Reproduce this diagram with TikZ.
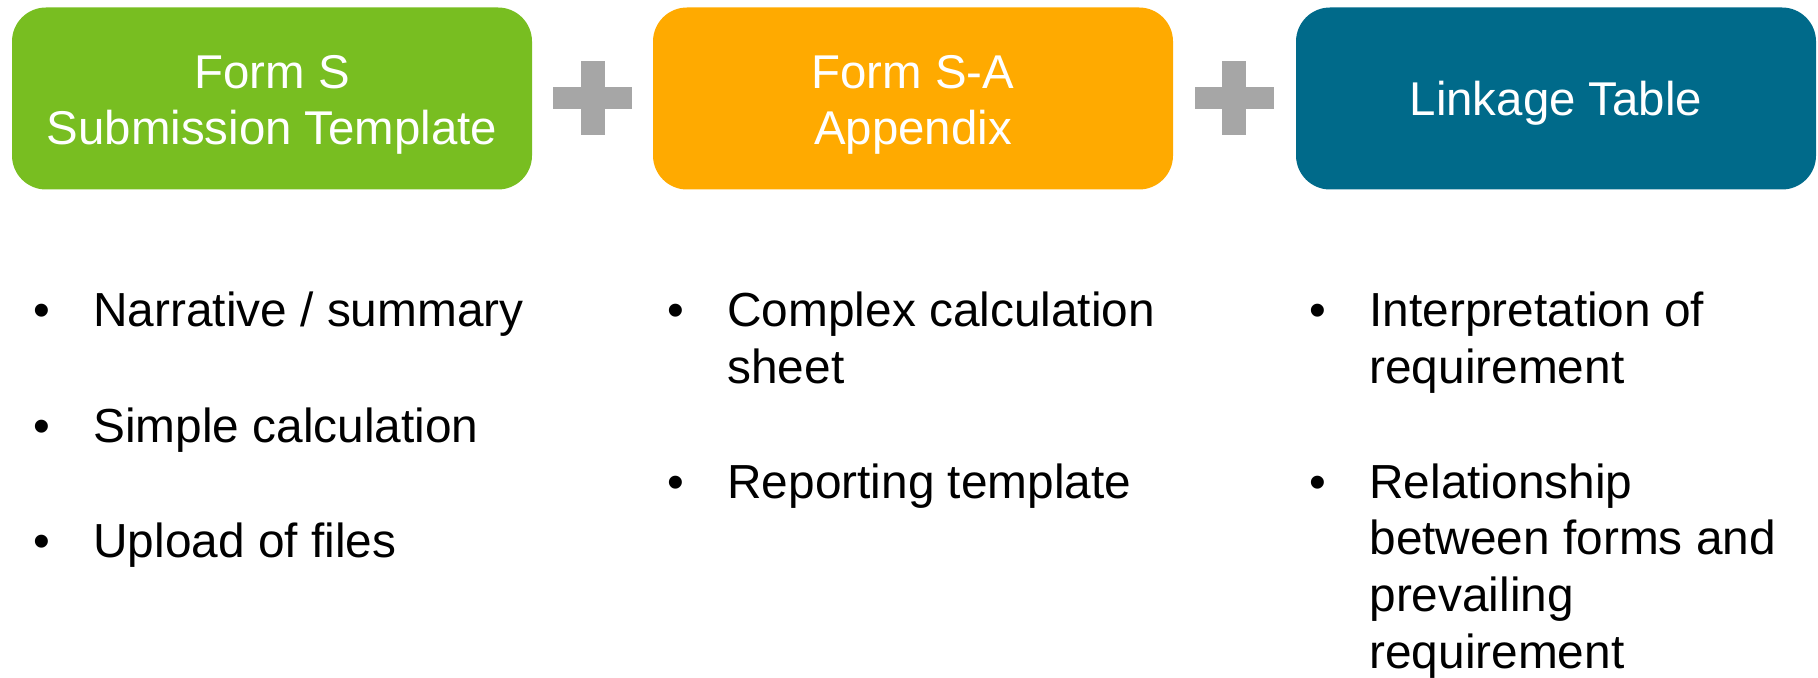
\documentclass[tikz,border=0pt]{standalone}
\usepackage{fontspec}
\setmainfont{Liberation Sans}
\definecolor{cgreen}{HTML}{78BE21}
\definecolor{corange}{HTML}{FFAA00}
\definecolor{cblue}{HTML}{006A8A}
\definecolor{cplus}{HTML}{A6A6A6}
\begin{document}
\begin{tikzpicture}[x=0.5pt,y=-0.5pt,
  formbox/.style={rounded corners=17pt, minimum width=260pt, minimum height=91pt, inner sep=0pt, draw=none},
  boxtext/.style={anchor=base, inner sep=0pt, text=white, font=\fontsize{23.7}{28}\selectfont},
  bul/.style={anchor=base west, inner sep=0pt, font=\fontsize{23.9}{28}\selectfont},
  itemtext/.style={anchor=base west, inner sep=0pt, font=\fontsize{23.9}{28}\selectfont},
  plusbar/.style={fill=cplus, draw=none}]
\useasboundingbox (0,0) rectangle (1818,678);
% boxes
\node[formbox, fill=cgreen] (formS) at (272,98.5) {};
\node[formbox, fill=corange] (formSA) at (913,98.5) {};
\node[formbox, fill=cblue] (link) at (1556,98.5) {};
\node[boxtext] (formS1) at (272,89) {Form S};
\node[boxtext] (formS2) at (272,145) {Submission Template};
\node[boxtext] (formSA1) at (913,89) {Form S-A};
\node[boxtext] (formSA2) at (913,145) {Appendix};
\node[boxtext] (link1) at (1556,116) {Linkage Table};
% plus signs
\foreach \cx in {592.5,1234} {
  \fill[plusbar] (\cx-39.5,87) rectangle (\cx+39.5,109);
  \fill[plusbar] (\cx-12,61) rectangle (\cx+12,135);
}
% column 1
\node[bul] (b11) at (33,327) {\textbullet};
\node[itemtext] (t11) at (93,327) {Narrative / summary};
\node[bul] (b12) at (33,442) {\textbullet};
\node[itemtext] (t12) at (93,442) {Simple calculation};
\node[bul] (b13) at (33,557) {\textbullet};
\node[itemtext] (t13) at (93,557) {Upload of files};
% column 2
\node[bul] (b21) at (667,327) {\textbullet};
\node[itemtext] (t21a) at (727,327) {Complex calculation};
\node[itemtext] (t21b) at (727,383) {sheet};
\node[bul] (b22) at (667,498) {\textbullet};
\node[itemtext] (t22) at (727,498) {Reporting template};
% column 3
\node[bul] (b31) at (1309,327) {\textbullet};
\node[itemtext] (t31a) at (1369,327) {Interpretation of};
\node[itemtext] (t31b) at (1369,383) {requirement};
\node[bul] (b32) at (1309,498) {\textbullet};
\node[itemtext] (t32a) at (1369,498) {Relationship};
\node[itemtext] (t32b) at (1369,554) {between forms and};
\node[itemtext] (t32c) at (1369,611) {prevailing};
\node[itemtext] (t32d) at (1369,668) {requirement};
\end{tikzpicture}
\end{document}
